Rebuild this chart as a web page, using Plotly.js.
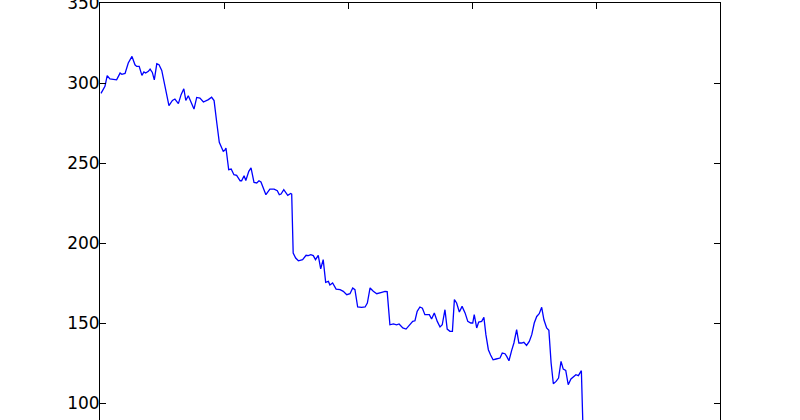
<!DOCTYPE html>
<html>
<head>
<meta charset="utf-8">
<script src="https://cdn.plot.ly/plotly-3.0.1.min.js"></script>
<style>
  html, body { margin: 0; padding: 0; background: #fff; overflow: hidden; }
  #chart { width: 800px; height: 500px; }
</style>
</head>
<body>
<div id="chart"></div>
<script>
// Sample index
const xValues = [
  0.4, 2.0, 2.9, 4.0, 6.7, 8.1, 8.8, 10.1, 11.4, 12.9,
  14.1, 14.8, 15.8, 16.9, 17.7, 18.4, 19.5, 20.2, 21.1, 21.9,
  22.9, 23.8, 24.9, 26.2, 27.8, 29.2, 30.2, 31.6, 32.7, 33.8,
  34.6, 35.6, 36.7, 37.9, 39.0, 40.3, 41.7, 43.7, 45.0, 46.0,
  47.1, 48.1, 49.1, 49.7, 50.3, 50.8, 51.9, 52.9, 54.0, 55.1,
  56.5, 57.1, 58.1, 58.8, 60.0, 60.9, 62.1, 63.2, 64.1, 64.9,
  66.9, 68.5, 70.2, 71.5, 72.3, 73.0, 74.1, 75.7, 76.9, 77.3,
  77.9, 78.9, 80.0, 81.7, 83.1, 84.0, 85.0, 86.0, 86.9, 88.0,
  89.0, 90.0, 91.0, 92.1, 92.7, 93.8, 95.2, 96.8, 98.1, 99.5,
  100.8, 101.9, 102.8, 103.9, 105.5, 106.9, 107.8, 108.9, 110.2, 111.6,
  113.6, 114.9, 115.8, 116.9, 118.3, 119.6, 120.6, 122.1, 123.4, 124.3,
  125.0, 126.1, 127.0, 127.9, 129.0, 130.0, 131.0, 132.8, 133.7, 134.8,
  136.0, 137.1, 138.0, 139.1, 140.0, 141.1, 142.1, 142.9, 143.8, 144.9,
  146.0, 147.2, 148.3, 149.5, 150.3, 150.9, 151.9, 152.7, 153.9, 154.8,
  155.6, 156.6, 157.5, 158.5, 159.7, 161.3, 162.2, 163.3, 164.0, 164.9,
  166.0, 166.9, 168.0, 168.9, 170.0, 170.9, 172.0, 173.1, 174.1, 175.1,
  176.1, 177.1, 178.1, 179.0, 180.1, 181.0, 181.9, 182.8, 183.9, 184.9,
  185.9, 186.8, 187.8, 188.8, 189.9, 190.8, 191.9, 192.9, 193.5, 194.1,
  195.1
];

// Series values
const seriesValues = [
  293.5, 297.9, 304.6, 302.5, 302.0, 306.2, 305.4, 306.0, 312.5, 316.6,
  311.4, 310.4, 310.4, 304.8, 306.9, 306.2, 307.3, 308.7, 306.6, 302.0,
  312.0, 311.4, 307.9, 297.9, 285.8, 289.1, 290.0, 287.1, 292.7, 296.4,
  289.1, 292.0, 288.5, 283.7, 291.0, 290.6, 288.1, 289.6, 291.1, 289.0,
  275.0, 262.9, 259.4, 257.3, 257.9, 259.4, 245.8, 246.2, 242.7, 242.3,
  238.9, 238.9, 242.0, 239.1, 244.8, 246.9, 237.9, 237.5, 238.9, 238.1,
  230.2, 233.7, 233.7, 232.7, 230.2, 230.6, 233.3, 229.8, 231.0, 230.6,
  193.7, 190.6, 188.9, 189.6, 192.3, 192.1, 192.7, 192.1, 189.6, 192.3,
  183.9, 189.6, 175.4, 176.0, 173.7, 175.0, 171.2, 170.8, 169.8, 167.7,
  168.3, 171.9, 170.8, 160.0, 159.8, 160.0, 162.5, 171.9, 169.8, 168.3,
  169.2, 169.8, 169.6, 148.9, 149.4, 148.9, 149.4, 146.9, 146.2, 147.9,
  149.6, 151.0, 151.4, 157.3, 160.0, 159.2, 155.2, 155.2, 152.5, 156.3,
  151.0, 147.5, 148.9, 158.3, 146.2, 144.8, 144.8, 164.6, 162.5, 156.9,
  160.4, 156.3, 151.0, 150.0, 150.0, 155.2, 146.9, 150.6, 151.0, 153.5,
  142.7, 133.3, 130.0, 127.0, 127.5, 128.1, 131.2, 130.8, 129.1, 126.4,
  132.9, 137.5, 145.8, 137.5, 137.5, 137.9, 136.0, 138.5, 142.7, 150.0,
  154.1, 155.8, 159.8, 152.0, 146.9, 145.4, 125.0, 112.0, 113.5, 115.6,
  126.0, 121.2, 120.4, 111.4, 115.0, 116.2, 117.7, 117.1, 118.8, 120.2,
  65.0
];

// Tick values
const xTicks = [0, 50, 100, 150, 200, 250];
const yTicks = [50, 100, 150, 200, 250, 300, 350];

const trace = {
  x: xValues,
  y: seriesValues,
  type: 'scatter',
  mode: 'lines',
  line: { color: '#0000ff', width: 1.3 },
  hoverinfo: 'skip'
};

const axisCommon = {
  showgrid: false,
  zeroline: false,
  showline: true,
  linecolor: '#000000',
  linewidth: 1,
  mirror: 'ticks',
  ticks: 'inside',
  ticklen: 6,
  tickwidth: 1,
  tickcolor: '#000000',
  tickfont: { family: 'DejaVu Sans', size: 17, color: '#000000' }
};

const layout = {
  width: 800,
  height: 500,
  margin: { l: 100, r: 80, t: 3, b: 17 },
  paper_bgcolor: '#ffffff',
  plot_bgcolor: '#ffffff',
  showlegend: false,
  xaxis: Object.assign({}, axisCommon, {
    range: [0, 250],
    tickmode: 'array',
    tickvals: xTicks,
    showticklabels: false
  }),
  yaxis: Object.assign({}, axisCommon, {
    range: [50, 350],
    tickmode: 'array',
    tickvals: yTicks,
    ticktext: yTicks.map(String),
    ticklabeloverflow: 'allow',
    ticklabelstandoff: -4
  })
};

Plotly.newPlot('chart', [trace], layout, { displayModeBar: false, staticPlot: true });
</script>
</body>
</html>
